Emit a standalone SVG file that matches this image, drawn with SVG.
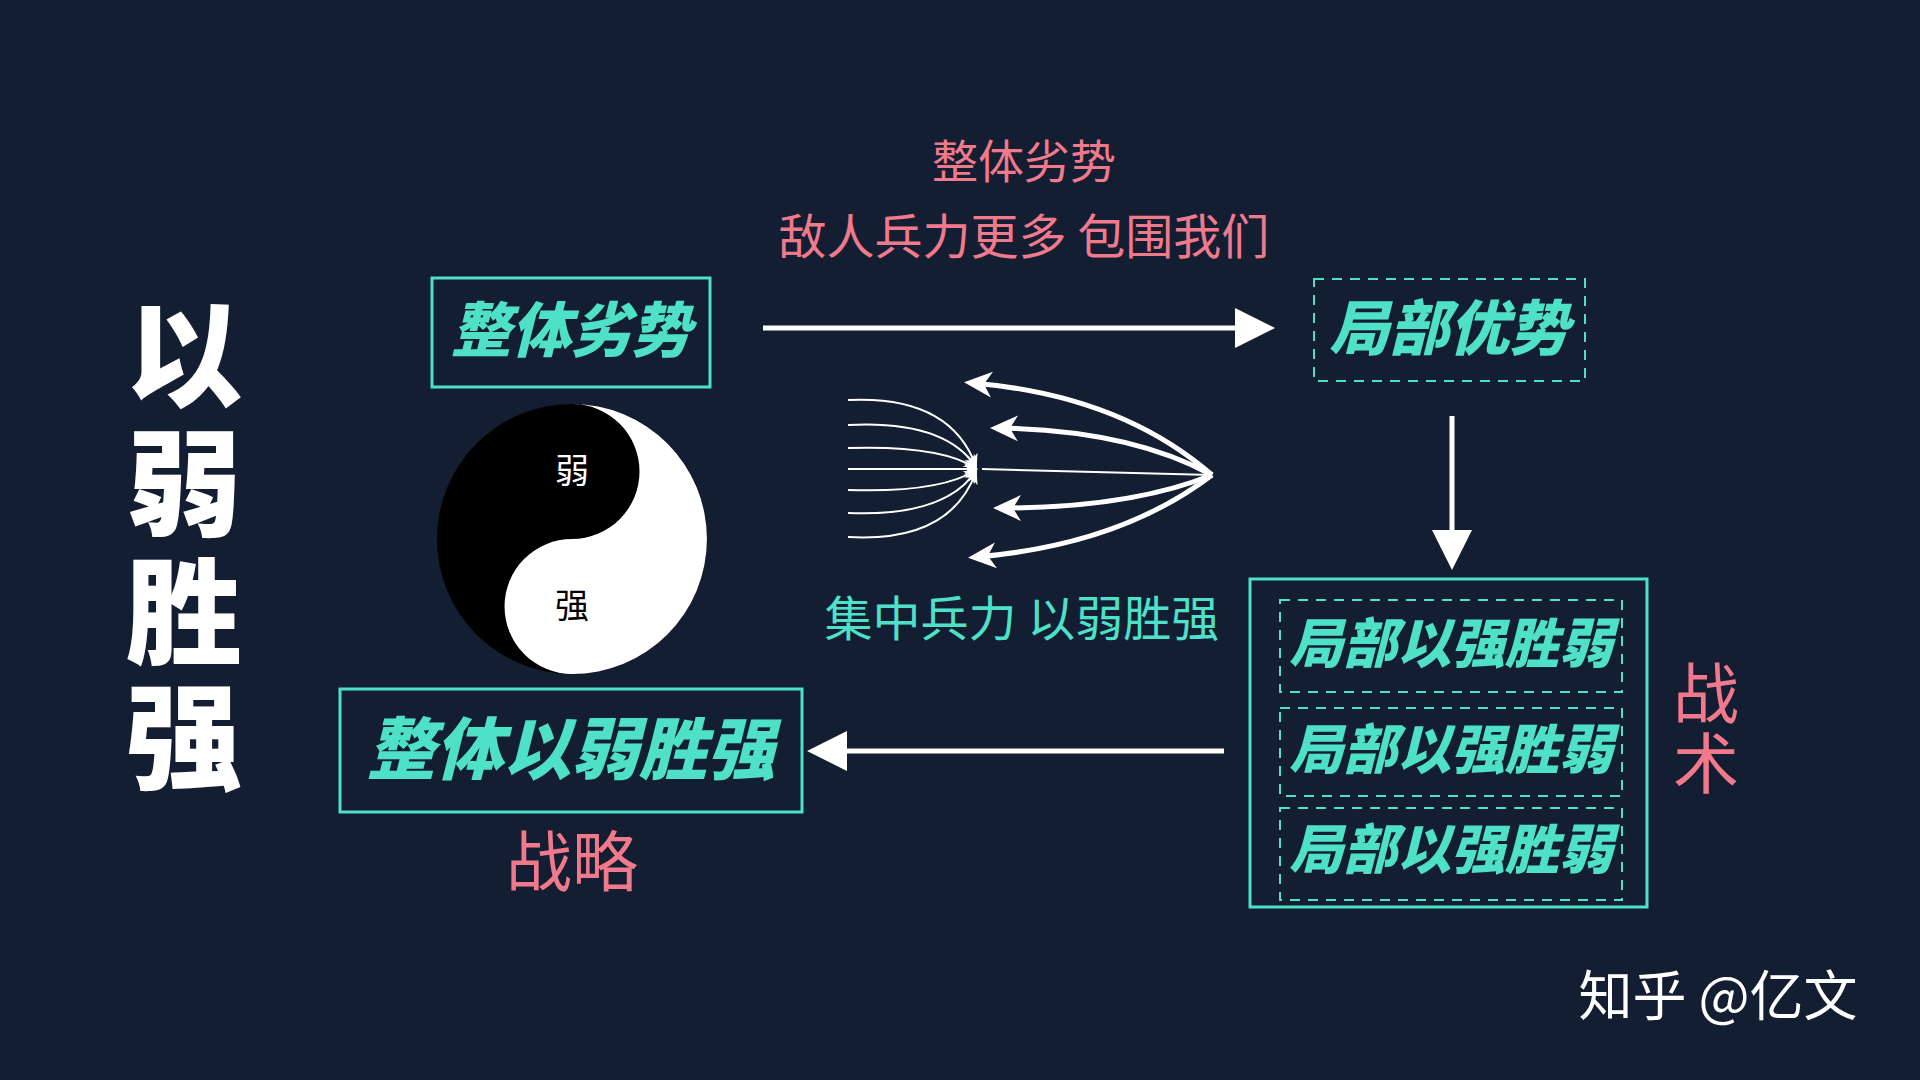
<svg xmlns="http://www.w3.org/2000/svg" width="1920" height="1080" viewBox="0 0 1920 1080">
<defs>
<style>
.teal{fill:#4ee0c8;font-family:"Noto Sans CJK SC",sans-serif;font-weight:900;font-style:italic;text-anchor:middle}
.pink{fill:#f07a8c;font-family:"Noto Sans CJK SC",sans-serif;text-anchor:middle}
.box{fill:none;stroke:#4ee0c8;stroke-width:3}
.dash{fill:none;stroke:#4ee0c8;stroke-width:2;stroke-dasharray:10 8}
.ln{fill:none;stroke:#fff;stroke-width:5}
.thin{fill:none;stroke:#fff;stroke-width:2}
</style>
<marker id="big" markerWidth="8" markerHeight="8" refX="1" refY="4" orient="auto" markerUnits="strokeWidth"><path d="M0,0 L8,4 L0,8 Z" fill="#fff"/></marker>
<marker id="head" markerWidth="30" markerHeight="30" refX="20" refY="15" orient="auto" markerUnits="userSpaceOnUse" viewBox="0 0 30 30"><path d="M0,2 L28,15 L0,28 L8,15 Z" fill="#fff"/></marker>
<marker id="sm" markerWidth="14" markerHeight="14" refX="12" refY="7" orient="auto" markerUnits="userSpaceOnUse" viewBox="0 0 14 14"><path d="M0,1 L14,7 L0,13 L4,7 Z" fill="#fff"/></marker>
</defs>
<rect width="1920" height="1080" fill="#131e33"/>
<g id="title" fill="#fff" font-family="Noto Sans CJK SC,sans-serif" font-weight="900" font-size="116" text-anchor="middle">
<text x="184" y="398">以</text><text x="184" y="527">弱</text><text x="184" y="655">胜</text><text x="184" y="780">强</text>
</g>
<g id="toplabels">
<text class="pink" x="1024" y="178" font-size="46">整体劣势</text>
<text class="pink" x="1024" y="254" font-size="48">敌人兵力更多 包围我们</text>
</g>
<g id="n1"><rect class="box" x="432" y="278" width="278" height="109"/><text class="teal" x="571" y="352" font-size="60">整体劣势</text></g>
<g id="n2"><rect class="dash" x="1314" y="279" width="271" height="102"/><text class="teal" x="1449" y="350" font-size="60">局部优势</text></g>
<g id="n3"><rect class="box" x="1250" y="579" width="397" height="328"/>
<rect class="dash" x="1280" y="600" width="342" height="92"/><text class="teal" x="1451" y="663" font-size="54">局部以强胜弱</text>
<rect class="dash" x="1280" y="708" width="342" height="88"/><text class="teal" x="1451" y="769" font-size="54">局部以强胜弱</text>
<rect class="dash" x="1280" y="808" width="342" height="92"/><text class="teal" x="1451" y="869" font-size="54">局部以强胜弱</text>
</g>
<g id="tactics"><text class="pink" x="1706" y="718" font-size="66">战</text><text class="pink" x="1706" y="788" font-size="66">术</text></g>
<g id="n4"><rect class="box" x="340" y="689" width="462" height="123"/><text class="teal" x="571" y="774" font-size="68">整体以弱胜强</text></g>
<g id="strategy"><text class="pink" x="572" y="886" font-size="66">战略</text></g>
<g id="yinyang">
<circle cx="572" cy="539" r="135" fill="#000"/>
<path d="M572,404 A135,135 0 0 1 572,674 A67.5,67.5 0 0 1 572,539 A67.5,67.5 0 0 0 572,404 Z" fill="#fff"/>
<text x="572" y="483" font-size="34" fill="#fff" text-anchor="middle" font-family="Noto Sans CJK SC,sans-serif">弱</text>
<text x="572" y="618" font-size="34" fill="#000" text-anchor="middle" font-family="Noto Sans CJK SC,sans-serif">强</text>
</g>
<g id="bundle">
<path class="ln" d="M1212,475 Q1120,395 972,383" marker-end="url(#head)"/>
<path class="ln" d="M1212,475 Q1130,430 998,428" marker-end="url(#head)"/>
<path class="ln" d="M1212,475 Q1130,508 1001,508" marker-end="url(#head)"/>
<path class="ln" d="M1212,475 Q1120,545 976,557" marker-end="url(#head)"/>
<path class="thin" d="M1212,475 L982,469"/>
<path class="thin" d="M848,400 Q950,395 976,466" marker-end="url(#sm)"/>
<path class="thin" d="M848,425 Q945,420 976,467" marker-end="url(#sm)"/>
<path class="thin" d="M848,448 Q940,445 976,468" marker-end="url(#sm)"/>
<path class="thin" d="M848,469 L976,469" marker-end="url(#sm)"/>
<path class="thin" d="M848,490 Q940,493 976,470" marker-end="url(#sm)"/>
<path class="thin" d="M848,513 Q945,517 976,471" marker-end="url(#sm)"/>
<path class="thin" d="M848,537 Q950,543 976,472" marker-end="url(#sm)"/>
<text x="1022" y="636" font-size="48" fill="#4ee0c8" text-anchor="middle" font-family="Noto Sans CJK SC,sans-serif">集中兵力 以弱胜强</text>
</g>
<g id="connectors">
<path class="ln" d="M763,328 L1240,328" marker-end="url(#big)"/>
<path class="ln" d="M1452,416 L1452,535" marker-end="url(#big)"/>
<path class="ln" d="M1224,751 L842,751" marker-end="url(#big)"/>
</g>
<g id="watermark"><text x="1718" y="1016" font-size="54" fill="#fff" text-anchor="middle" font-family="Noto Sans CJK SC,sans-serif">知乎 @亿文</text></g>
</svg>
